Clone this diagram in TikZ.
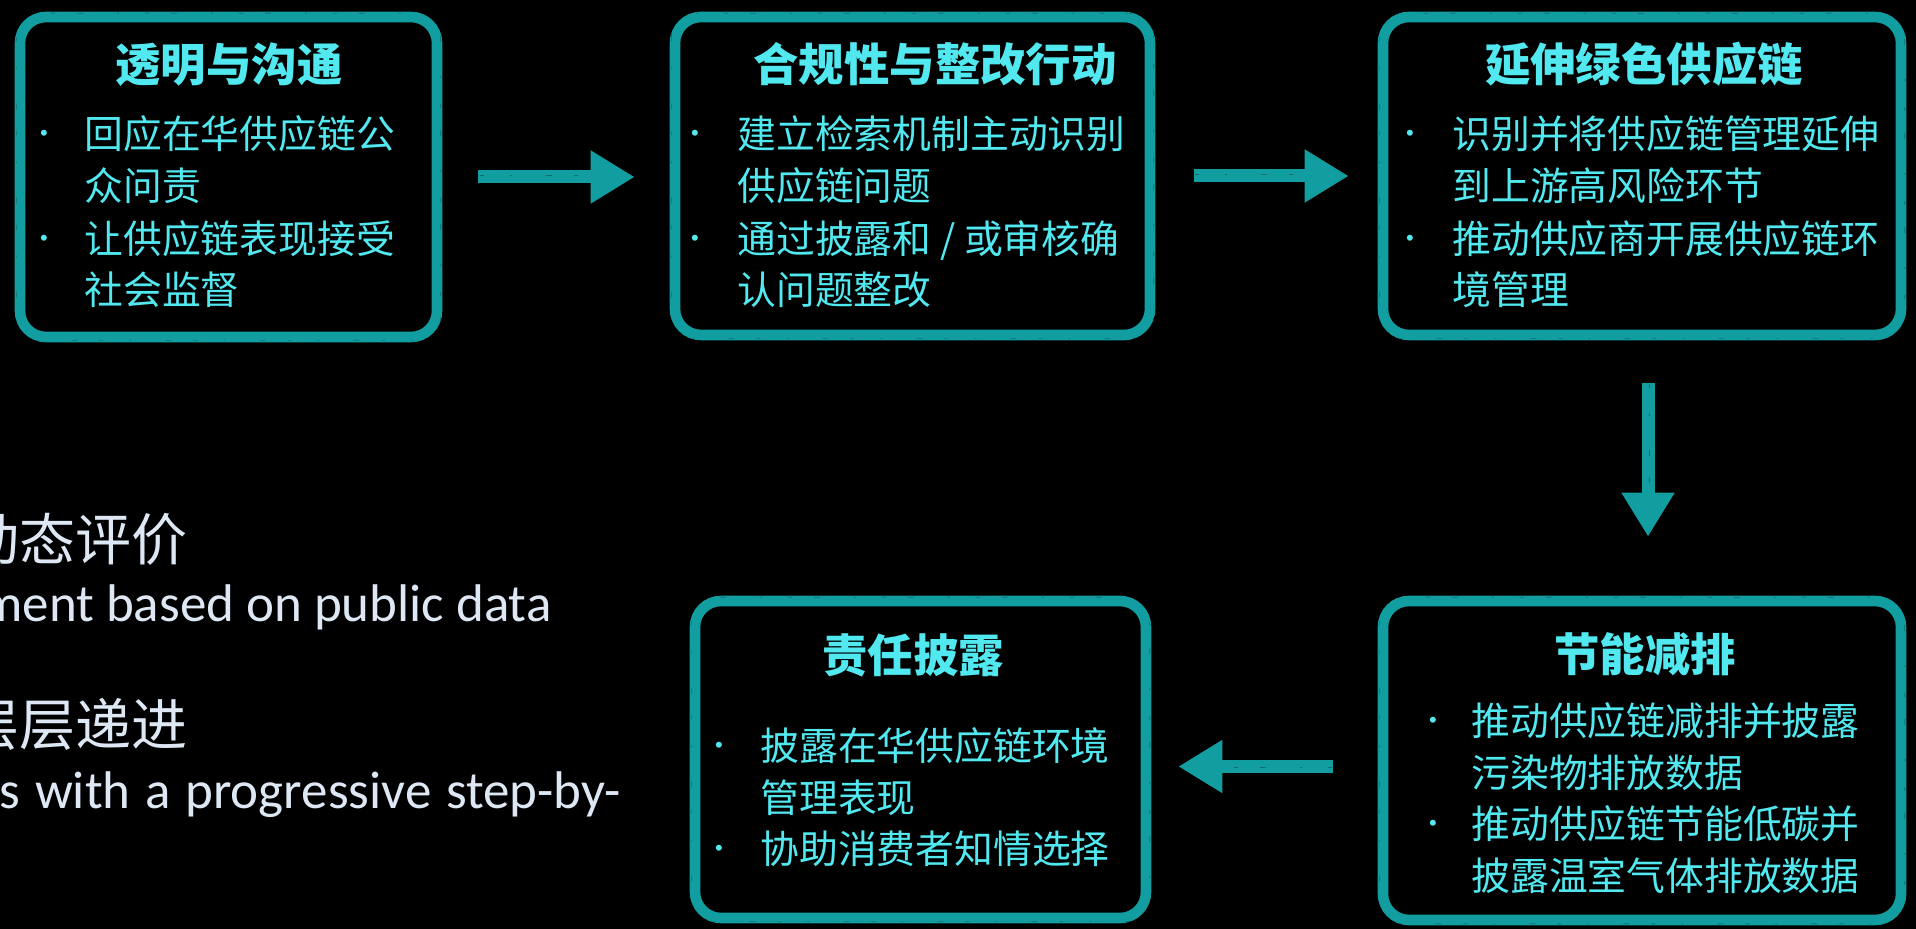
\documentclass[tikz,border=0pt]{standalone}
\usepackage{fontspec}
\setmainfont{Noto Sans CJK SC}
\newfontfamily\latinf{Carlito}
\newfontfamily\bulf{Liberation Sans}
\usetikzlibrary{arrows.meta}
\definecolor{bteal}{RGB}{18,158,160}
\definecolor{tcyan}{RGB}{82,232,240}
\definecolor{ltxt}{RGB}{222,232,244}
\tikzset{
  panel/.style={draw=bteal, line width=5.3pt, rounded corners=13pt, inner sep=0pt, fill=black},
  ttl/.style={text=tcyan, font=\fontsize{22.7pt}{26pt}\selectfont\bfseries, anchor=base, inner sep=0pt},
  bodyln/.style={text=tcyan, font=\fontsize{19.4pt}{26pt}\selectfont, anchor=base west, inner sep=0pt},
  bul/.style={text=tcyan, font=\bulf\fontsize{11pt}{12pt}\selectfont, anchor=base, inner sep=0pt},
  sidecn/.style={text=ltxt, font=\fontsize{28pt}{32pt}\selectfont, anchor=base east, inner sep=0pt},
  sideen/.style={text=ltxt, font=\latinf\fontsize{26.5pt}{30pt}\selectfont, inner sep=0pt},
  flow/.style={draw=bteal, line width=6.5pt, -{Triangle[length=22pt,width=25pt]}},
  speck/.style={black, opacity=0.3, line width=0.3pt, dash pattern=on 2pt off 13pt on 1pt off 17pt on 3pt off 11pt},
}
\newcommand\bodyline[4]{\node[bodyln] (#1) at (#2,#3+15) {#4};}
\newcommand\bulletat[3]{\node[bul] (#1) at (#2,#3+7) {•};}
\newcommand\grit[1]{%
  \draw[speck, rounded corners=12pt]
    ([shift={(0.8pt,-0.8pt)}]#1.north west) rectangle ([shift={(-0.8pt,0.8pt)}]#1.south east);
}
\begin{document}
\begin{tikzpicture}[x=0.5pt,y=-0.5pt]
\fill[black] (0,0) rectangle (1916,929);
\useasboundingbox (0,0) rectangle (1916,929);

% panels
\node[panel, minimum width=208.5pt, minimum height=160pt] (p1) at (228.5,177) {};
\node[panel, minimum width=237.5pt, minimum height=159pt] (p2) at (912.5,176) {};
\node[panel, minimum width=259pt, minimum height=159pt] (p3) at (1642,176) {};
\node[panel, minimum width=225.5pt, minimum height=158.5pt] (p4) at (920.5,759.5) {};
\node[panel, minimum width=259pt, minimum height=159.5pt] (p5) at (1642,760.5) {};
\grit{p1}\grit{p2}\grit{p3}\grit{p4}\grit{p5}

% arrows
\draw[flow, shorten <=18pt, shorten >=17.5pt] (p1.east) -- (p1.east -| p2.west);
\draw[flow, shorten <=19.5pt, shorten >=14.5pt] (p2.east) -- (p2.east -| p3.west);
\draw[flow, shorten <=21.5pt, shorten >=29.5pt] ([xshift=3pt]p3.south) -- ([xshift=3pt]p5.north);
\draw[flow, shorten <=22.5pt, shorten >=13.5pt] ([yshift=-3pt]p5.west) -- ([yshift=-3pt]p5.west -| p4.east);
% chalk specks on the arrow shafts
\draw[speck, shorten <=19pt, shorten >=40pt] ([yshift=1pt]p1.east) -- ([yshift=1pt]p1.east -| p2.west);
\draw[speck, shorten <=20pt, shorten >=37pt] ([yshift=1pt]p2.east) -- ([yshift=1pt]p2.east -| p3.west);
\draw[speck, shorten <=22pt, shorten >=52pt] ([xshift=3.5pt]p3.south) -- ([xshift=3.5pt]p5.north);
\draw[speck, shorten <=23pt, shorten >=36pt] ([yshift=-3.5pt]p5.west) -- ([yshift=-3.5pt]p5.west -| p4.east);

% panel 1
\node[ttl] (t1) at (229,82) {透明与沟通};
\bulletat{d11}{44}{134}
\bodyline{l11}{84}{134}{回应在华供应链公}
\bodyline{l12}{84}{186}{众问责}
\bulletat{d12}{44}{239}
\bodyline{l13}{84}{239}{让供应链表现接受}
\bodyline{l14}{84}{290}{社会监督}

% panel 2
\node[ttl] (t2) at (935,82) {合规性与整改行动};
\bulletat{d21}{695}{134}
\bodyline{l21}{737}{134}{建立检索机制主动识别}
\bodyline{l22}{737}{186}{供应链问题}
\bulletat{d22}{695}{239}
\bodyline{l23}{737}{239}{通过披露和 / 或审核确}
\bodyline{l24}{737}{290}{认问题整改}

% panel 3
\node[ttl] (t3) at (1644,82) {延伸绿色供应链};
\bulletat{d31}{1410}{134}
\bodyline{l31}{1452}{134}{识别并将供应链管理延伸}
\bodyline{l32}{1452}{186}{到上游高风险环节}
\bulletat{d32}{1410}{239}
\bodyline{l33}{1452}{239}{推动供应商开展供应链环}
\bodyline{l34}{1452}{290}{境管理}

% panel 4
\node[ttl] (t4) at (913,673) {责任披露};
\bulletat{d41}{719}{745}
\bodyline{l41}{760}{745}{披露在华供应链环境}
\bodyline{l42}{760}{797}{管理表现}
\bulletat{d42}{719}{848}
\bodyline{l43}{760}{848}{协助消费者知情选择}

% panel 5
\node[ttl] (t5) at (1645,672) {节能减排};
\bulletat{d51}{1433}{720}
\bodyline{l51}{1471}{720}{推动供应链减排并披露}
\bodyline{l52}{1471}{772}{污染物排放数据}
\bulletat{d52}{1433}{823}
\bodyline{l53}{1471}{823}{推动供应链节能低碳并}
\bodyline{l54}{1471}{875}{披露温室气体排放数据}

% left side text (cut off at the left edge, as in the reference)
\begin{scope}
\clip (0,0) rectangle (1916,929);
\node[sidecn] (s1) at (188,561) {动态评价};
\node[sideen, anchor=base west] (s2) at (-20,622) {ment based on public data};
\node[sidecn] (s3) at (188,746) {层层递进};
\node[sideen, anchor=base east] (s4) at (621,808) {\makebox[310.5pt][s]{s with a progressive step-by-}};
\end{scope}
\end{tikzpicture}
\end{document}
